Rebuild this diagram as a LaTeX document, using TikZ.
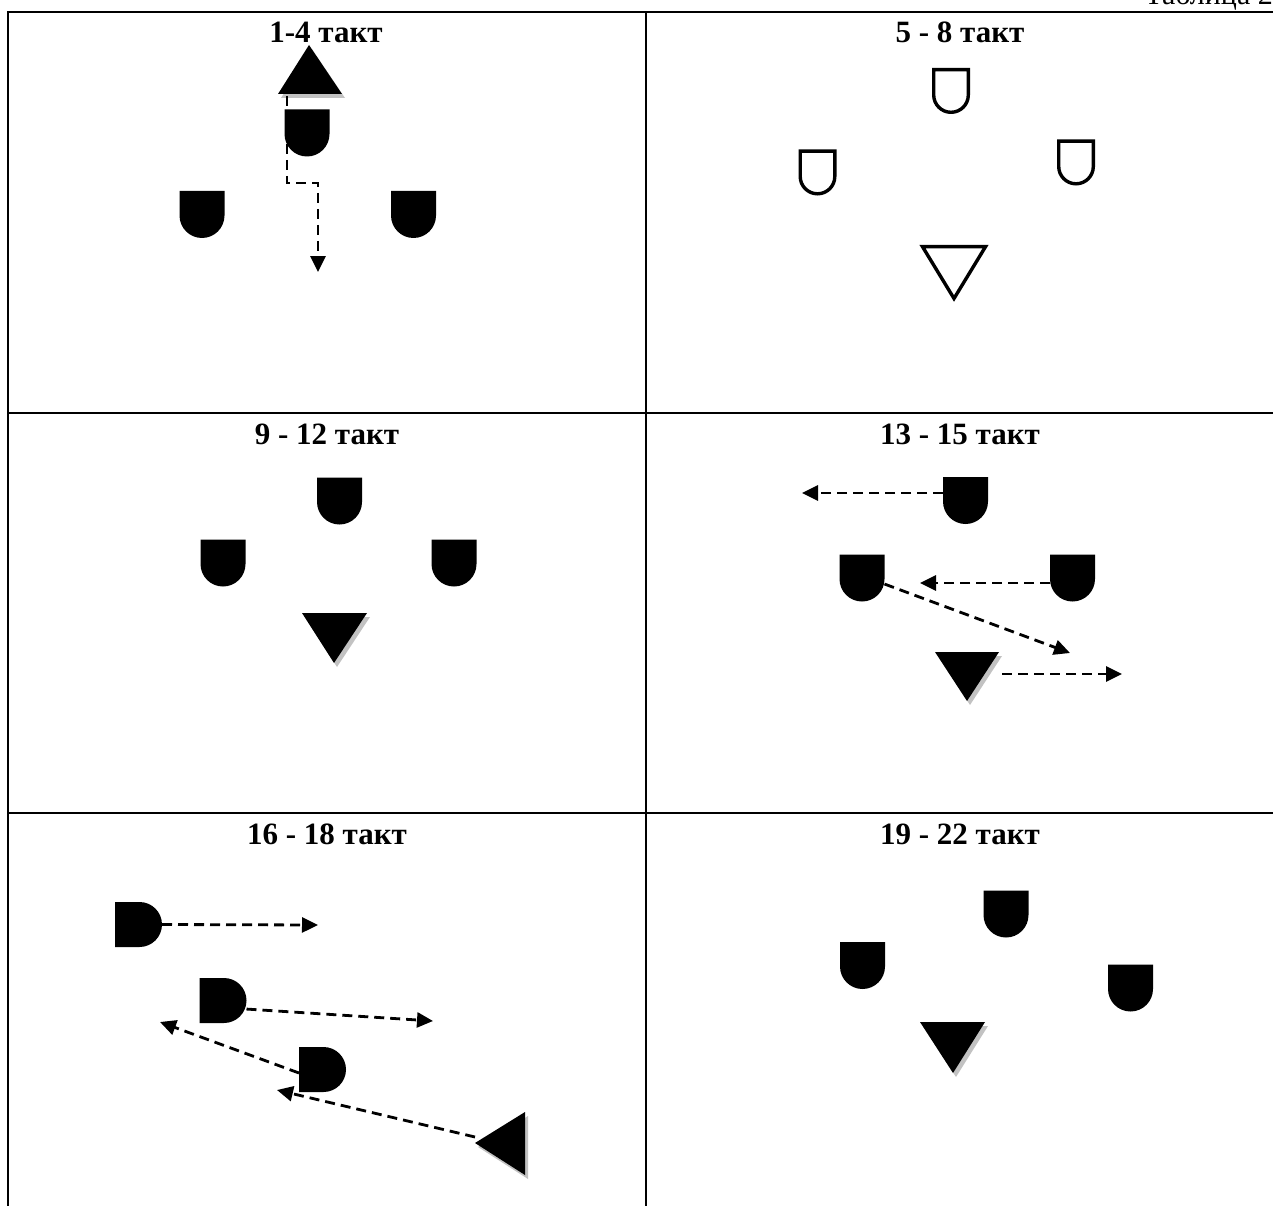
\documentclass[tikz,border=0pt]{standalone}
\usepackage{fontspec}
\setmainfont{Liberation Serif}
\usetikzlibrary{arrows.meta}

\tikzset{
  x=1pt, y=1pt,
  rule/.style={line width=2pt},
  title/.style={font=\fontsize{31}{37}\selectfont\bfseries, anchor=base, inner sep=0pt},
  caption/.style={font=\fontsize{30}{36}\selectfont, anchor=base east, inner sep=0pt},
  % solid player marker, rounded side down
  player/.style={minimum width=45pt, minimum height=47pt, inner sep=0pt, outer sep=0pt,
    path picture={\fill (path picture bounding box.north west) -- (path picture bounding box.north east)
      -- ([yshift=22.5pt]path picture bounding box.south east)
      arc[start angle=0, end angle=-180, radius=22.5pt] -- cycle;}},
  % solid player marker, rounded side to the right
  playerR/.style={minimum width=47pt, minimum height=45pt, inner sep=0pt, outer sep=0pt,
    path picture={\fill (path picture bounding box.north west)
      -- ([xshift=-22.5pt]path picture bounding box.north east)
      arc[start angle=90, end angle=-90, radius=22.5pt]
      -- (path picture bounding box.south west) -- cycle;}},
  % outlined player marker
  playerO/.style={minimum width=38pt, minimum height=46pt, inner sep=0pt, outer sep=0pt,
    path picture={\draw[line width=3.4pt, line join=miter]
      ([shift={(1.7pt,-1.7pt)}]path picture bounding box.north west)
      -- ([shift={(-1.7pt,-1.7pt)}]path picture bounding box.north east)
      -- ([shift={(-1.7pt,19pt)}]path picture bounding box.south east)
      arc[start angle=0, end angle=-180, radius=17.3pt] -- cycle;}},
  tri/.style={fill=black},
  trishadow/.style={fill=black!24},
  move/.style={line width=2.8pt, dash pattern=on 10pt off 6pt,
    -{Triangle[length=16pt, width=15pt]}},
}

\begin{document}
\begin{tikzpicture}
\useasboundingbox (0,0) rectangle (1273,-1206);

% table rules
\draw[rule] (8,-1206) -- (8,-12) -- (1280,-12);
\draw[rule] (646,-12) -- (646,-1206);
\draw[rule] (8,-413) -- (1280,-413);
\draw[rule] (8,-813) -- (1280,-813);

\node[caption] (cap) at (1273,-5) {Таблица 2};

% ---- cell 1
\node[title] (h1) at (326,-43) {1-4 такт};
\fill[trishadow] (312,-49) -- (281,-98) -- (345,-98) -- cycle;
\fill[tri] (309,-45) -- (278,-94) -- (342,-94) -- cycle;
\coordinate (s1) at (287,-96);
\coordinate (b1) at (287,-183);
\coordinate (b2) at (318,-183);
\coordinate (e1) at (318,-272);
\node[player] (p1a) at (307,-133) {};
\node[player] (p1b) at (202,-214.5) {};
\node[player] (p1c) at (413.5,-214.5) {};
\draw[move] (s1) -- (b1) -- (b2) -- (e1);

% ---- cell 2
\node[title] (h2) at (960,-43) {5 - 8 такт};
\node[playerO] (p2a) at (951,-91) {};
\node[playerO] (p2b) at (817.5,-172.5) {};
\node[playerO] (p2c) at (1076,-162.5) {};
\draw[line width=3.4pt, line join=miter] (922.5,-246.7) -- (985.5,-246.7) -- (954,-298.5) -- cycle;

% ---- cell 3
\node[title] (h3) at (327,-444) {9 - 12 такт};
\node[player] (p3a) at (339.5,-501) {};
\node[player] (p3b) at (223,-563) {};
\node[player] (p3c) at (454,-563) {};
\fill[trishadow] (305,-617) -- (370,-617) -- (337,-667) -- cycle;
\fill[tri] (302,-613) -- (367,-613) -- (334,-663) -- cycle;

% ---- cell 4
\node[title] (h4) at (960,-444) {13 - 15 такт};
\node[player] (p4a) at (965.5,-500.5) {};
\node[player] (p4b) at (862,-578) {};
\node[player] (p4c) at (1072.5,-578) {};
\fill[trishadow] (938,-656) -- (1002,-656) -- (970,-705) -- cycle;
\fill[tri] (935,-652) -- (999,-652) -- (967,-701) -- cycle;
\coordinate (t4) at (1002,-674);
\coordinate (e4a) at (802,-493);
\coordinate (e4b) at (920,-583);
\coordinate (e4c) at (1070,-653);
\coordinate (e4d) at (1122,-674);
\draw[move] ([yshift=7.5pt]p4a.west) -- (e4a);
\draw[move] ([yshift=-5pt]p4c.west) -- (e4b);
\draw[move] (p4b.-15) -- (e4c);
\draw[move] (t4) -- (e4d);

% ---- cell 5
\node[title] (h5) at (327,-844) {16 - 18 такт};
\node[playerR] (p5a) at (138.5,-924.5) {};
\node[playerR] (p5b) at (223,-1000.5) {};
\node[playerR] (p5c) at (322.5,-1069.5) {};
\fill[trishadow] (478,-1147) -- (528,-1116) -- (528,-1179) -- cycle;
\fill[tri] (475,-1143) -- (525,-1112) -- (525,-1175) -- cycle;
\coordinate (t5) at (475,-1137);
\coordinate (e5a) at (318,-925);
\coordinate (e5b) at (433,-1021);
\coordinate (e5c) at (160,-1022);
\coordinate (e5d) at (277,-1090);
\draw[move] (p5a.east) -- (e5a);
\draw[move] (p5b.-20) -- (e5b);
\draw[move] ([yshift=-3.5pt]p5c.west) -- (e5c);
\draw[move] (t5) -- (e5d);

% ---- cell 6
\node[title] (h6) at (960,-844) {19 - 22 такт};
\node[player] (p6a) at (1006,-914) {};
\node[player] (p6b) at (862.5,-965.5) {};
\node[player] (p6c) at (1130.5,-988) {};
\fill[trishadow] (923,-1026) -- (988,-1026) -- (956,-1077) -- cycle;
\fill[tri] (920,-1022) -- (985,-1022) -- (953,-1073) -- cycle;
\end{tikzpicture}
\end{document}
